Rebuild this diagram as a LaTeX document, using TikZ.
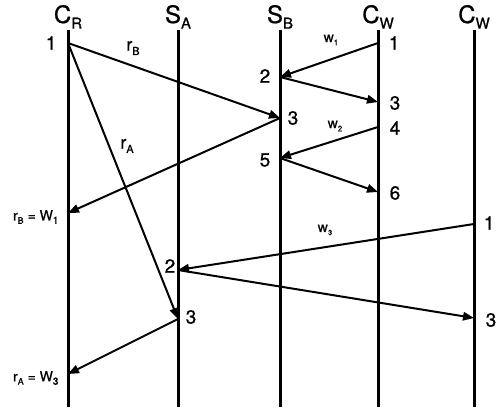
\documentclass[tikz,border=0pt]{standalone}
\usepackage{fontspec}
\setmainfont{TeX Gyre Heros}[FakeBold=0.8]
\usetikzlibrary{arrows.meta}
\newcommand\low[2]{\raisebox{-0.45ex}{\fontsize{#1}{#1}\selectfont#2}}

\begin{document}
\begin{tikzpicture}[x=1pt,y=-1pt,
  life/.style={line width=3pt},
  msg/.style={line width=2pt,-{Triangle[length=11pt,width=8.5pt]}},
  head/.style={anchor=base,font=\fontsize{24}{24}\selectfont},
  num/.style={font=\fontsize{19}{19}\selectfont},
  lbl/.style={font=\fontsize{18}{18}\selectfont},
  small/.style={font=\fontsize{14}{14}\selectfont}]
\useasboundingbox (0,0) rectangle (499,412);
% process lines
\foreach \n/\x/\t in {cr/68/C\low{15}{R}, sa/178/S\low{15}{A}, sb/280/S\low{15}{B}, cw/378/C\low{15}{W}, cv/474/C\low{15}{W}} {
  \node[head] (\n) at (\x,23) {\t};
  \draw[life] (\x,30) -- (\x,407);
}
% events
\coordinate (r1) at (68,43);
\coordinate (rb) at (68,213);
\coordinate (ra) at (68,374);
\coordinate (a2) at (178,270);
\coordinate (a3) at (178,319);
\coordinate (b2) at (280,77);
\coordinate (b3) at (280,118);
\coordinate (b5) at (280,158);
\coordinate (w1) at (378,43);
\coordinate (w3) at (378,102);
\coordinate (w4) at (378,127);
\coordinate (w6) at (378,192);
\coordinate (v1) at (474,224);
\coordinate (v3) at (474,318);
% messages
\draw[msg] (r1) -- (b3);
\draw[msg] (r1) -- (a3);
\draw[msg] (w1) -- (b2);
\draw[msg] (b2) -- (w3);
\draw[msg] (w4) -- (b5);
\draw[msg] (b5) -- (w6);
\draw[msg] (b3) -- (rb);
\draw[msg] (v1) -- (a2);
\draw[msg] (a2) -- (v3);
\draw[msg] (a3) -- (ra);
% step numbers
\node[num] (n1) at (51,43) {1};
\node[num] (n2) at (394,43) {1};
\node[num] (n3) at (265,76) {2};
\node[num] (n4) at (395,103) {3};
\node[num] (n5) at (293,118) {3};
\node[num] (n6) at (395,128) {4};
\node[num] (n7) at (265,160) {5};
\node[num] (n8) at (395,193) {6};
\node[num] (n9) at (489,223) {1};
\node[num] (n10) at (170,266) {2};
\node[num] (n11) at (191,317) {3};
\node[num] (n12) at (491,320) {3};
% message labels
\node[lbl] (lrb) at (133,48) {r\low{11}{B}};
\node[lbl] (lra) at (127,146) {r\low{11}{A}};
\node[small] (lw1) at (331,40) {w\low{8}{1}};
\node[small] (lw2) at (335,126) {w\low{8}{2}};
\node[small] (lw3) at (325,230) {w\low{8}{3}};
\node[small,anchor=east] (eqb) at (62,217) {r\low{9}{B} = W\low{10}{1}};
\node[small,anchor=east] (eqa) at (62,378) {r\low{9}{A} = W\low{10}{3}};
\end{tikzpicture}
\end{document}
